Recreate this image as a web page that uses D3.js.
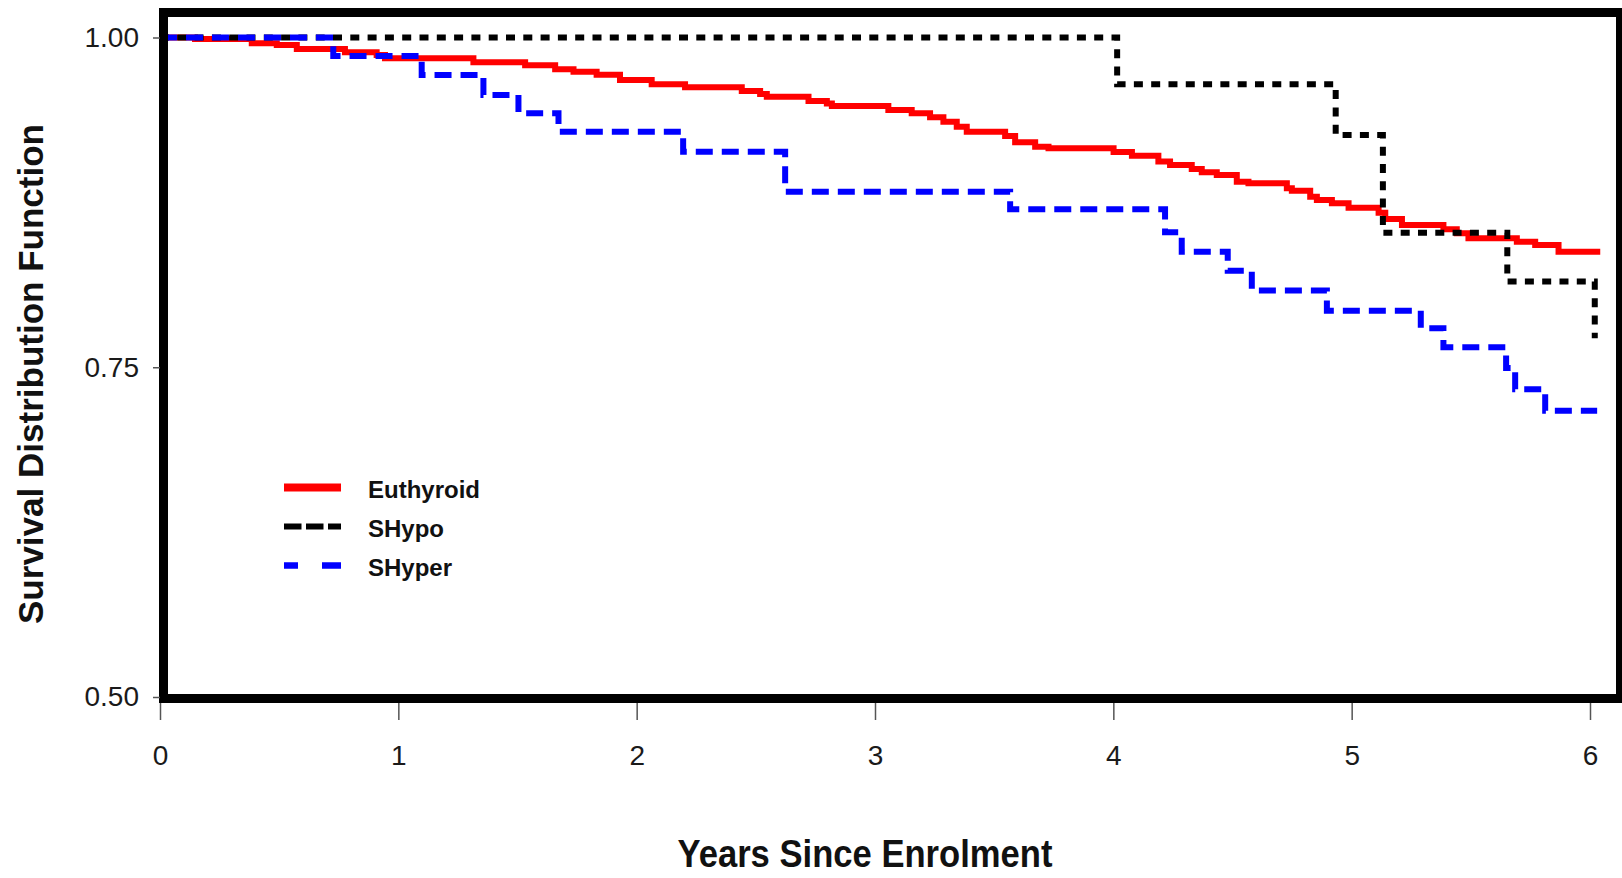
<!DOCTYPE html>
<html lang="en">

<head>
    <meta charset="UTF-8">
    <title>Survival Distribution Function</title>
    <style>
        body {
            margin: 0;
            background: #fff;
        }

        text {
            font-family: "Liberation Sans", Arial, sans-serif;
        }

        .tick text {
            font-size: 28px;
            fill: #1a1a1a;
        }

        .tick line {
            stroke: #555;
            stroke-width: 1.5;
        }

        .legend text {
            font-size: 24px;
            font-weight: bold;
            fill: #111;
        }
    </style>
</head>

<body>
    <div id="chart"></div>

    <script src="https://d3js.org/d3.v7.min.js"></script>
    <script>
        // Kaplan-Meier estimates (years, survival)
        const euthTime = [0, 0.147, 0.385, 0.490, 0.574, 0.776, 0.909, 0.944, 1.315, 1.532, 1.658, 1.735, 1.832, 1.930,
            2.063, 2.203, 2.441, 2.518, 2.546, 2.721, 2.798, 2.819, 3.056, 3.154, 3.231, 3.287, 3.343, 3.385, 3.546,
            3.588, 3.672, 3.728, 4.001, 4.078, 4.189, 4.238, 4.329, 4.371, 4.434, 4.518, 4.567, 4.728, 4.749, 4.826,
            4.854, 4.917, 4.987, 5.113, 5.141, 5.211, 5.385, 5.441, 5.490, 5.693, 5.770, 5.868, 6.043];
        const euthSurv = [1.000, 0.9989, 0.9956, 0.9943, 0.9913, 0.9888, 0.9867, 0.9842, 0.9812, 0.9789, 0.9759, 0.9741,
            0.9718, 0.9678, 0.9645, 0.9623, 0.9594, 0.9572, 0.9551, 0.9519, 0.9500, 0.9481, 0.9450, 0.9425, 0.9395,
            0.9362, 0.9324, 0.9286, 0.9253, 0.9206, 0.9172, 0.9160, 0.9132, 0.9104, 0.9059, 0.9034, 0.9003, 0.8978,
            0.8958, 0.8907, 0.8895, 0.8857, 0.8839, 0.8793, 0.8768, 0.8743, 0.8710, 0.8672, 0.8624, 0.8579, 0.8546,
            0.8516, 0.8478, 0.8452, 0.8427, 0.8376, 0.8376];

        const shypoTime = [0, 4.016, 4.933, 5.131, 5.653, 6.02];
        const shypoSurv = [1.000, 0.9645, 0.926, 0.852, 0.815, 0.772];

        const shyperTime = [0, 0.727, 1.098, 1.357, 1.504, 1.672, 2.195, 2.623, 3.567, 4.217, 4.287, 4.480, 4.581,
            4.896, 5.290, 5.385, 5.648, 5.686, 5.812, 6.03];
        const shyperSurv = [1.000, 0.986, 0.9716, 0.9564, 0.9425, 0.9286, 0.9134, 0.8831, 0.8698, 0.8523, 0.8376,
            0.8232, 0.8081, 0.7929, 0.7796, 0.7652, 0.7495, 0.7333, 0.7171, 0.7171];

        const seriesNames = ["Euthyroid", "SHypo", "SHyper"];
        const xTicks = [0, 1, 2, 3, 4, 5, 6];
        const yTicks = [0.50, 0.75, 1.00];

        const width = 1622;
        const height = 878;

        const series = [
            { name: seriesNames[0], t: euthTime, s: euthSurv, color: "#ff0000", dash: null, legDash: null, legW: 8 },
            { name: seriesNames[1], t: shypoTime, s: shypoSurv, color: "#000000", dash: "9,8.3", legDash: "17.5,4.5", legW: 6 },
            { name: seriesNames[2], t: shyperTime, s: shyperSurv, color: "#0000ff", dash: "17,9", legDash: "14,24,19", legW: 6.5 }
        ];

        const x = d3.scaleLinear().domain([0, 6]).range([160, 1590]);
        const y = d3.scaleLinear().domain([0.5, 1]).range([697, 37.5]);

        const svg = d3.select("#chart")
            .append("svg")
            .attr("width", width)
            .attr("height", height);

        const line = d3.line()
            .x(d => x(d[0]))
            .y(d => y(d[1]))
            .curve(d3.curveStepAfter);

        svg.append("g")
            .selectAll("path")
            .data(series)
            .join("path")
            .attr("d", d => line(d.t.map((t, i) => [t, d.s[i]])))
            .attr("fill", "none")
            .attr("stroke", d => d.color)
            .attr("stroke-width", 6)
            .attr("stroke-dasharray", d => d.dash);

        // frame
        svg.append("rect")
            .attr("x", 163.5)
            .attr("y", 12.5)
            .attr("width", 1457)
            .attr("height", 686)
            .attr("fill", "none")
            .attr("stroke", "#000")
            .attr("stroke-width", 9);

        // axes
        const yAxis = svg.append("g")
            .attr("transform", "translate(160,0)")
            .call(d3.axisLeft(y).tickValues(yTicks).tickFormat(d3.format(".2f")).tickSize(7).tickPadding(14));
        yAxis.select(".domain").remove();

        const xAxis = svg.append("g")
            .attr("transform", "translate(0,703)")
            .call(d3.axisBottom(x).tickValues(xTicks).tickFormat(d3.format("d")).tickSize(17).tickPadding(25));
        xAxis.select(".domain").remove();

        svg.append("text")
            .attr("transform", "translate(42.5,374) rotate(-90)")
            .attr("text-anchor", "middle")
            .attr("font-size", 35)
            .attr("font-weight", "bold")
            .attr("fill", "#111")
            .attr("textLength", 500)
            .attr("lengthAdjust", "spacingAndGlyphs")
            .text("Survival Distribution Function");

        svg.append("text")
            .attr("x", 865)
            .attr("y", 867)
            .attr("text-anchor", "middle")
            .attr("font-size", 38)
            .attr("font-weight", "bold")
            .attr("fill", "#111")
            .attr("textLength", 375)
            .attr("lengthAdjust", "spacingAndGlyphs")
            .text("Years Since Enrolment");

        // legend
        const legend = svg.append("g")
            .attr("class", "legend")
            .selectAll("g")
            .data(series)
            .join("g")
            .attr("transform", (d, i) => `translate(284,${498 + i * 39})`);

        legend.append("line")
            .attr("x1", 0)
            .attr("x2", 57)
            .attr("y1", -10.5)
            .attr("y2", -10.5)
            .attr("stroke", d => d.color)
            .attr("stroke-width", d => d.legW)
            .attr("stroke-dasharray", d => d.legDash);

        legend.append("text")
            .attr("x", 84)
            .attr("y", 0)
            .text(d => d.name);
    </script>

</body>

</html>
